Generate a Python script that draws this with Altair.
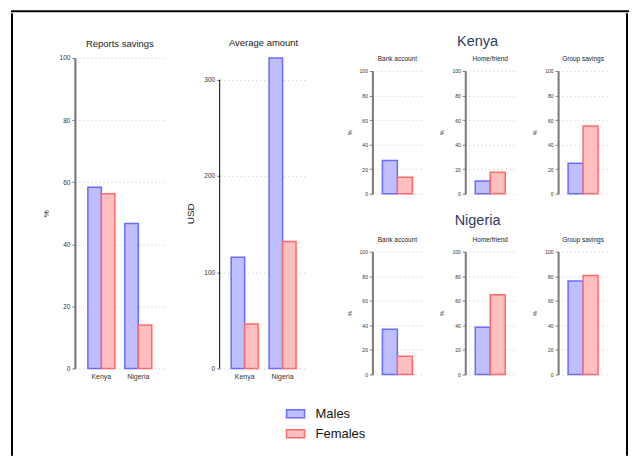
import altair as alt
import pandas as pd

sexes = ["Males", "Females"]
countries = ["Kenya", "Nigeria"]
reports_males = [58.4, 46.7]
reports_females = [56.3, 14.0]
amount_males = [115.5, 322.5]
amount_females = [46.2, 132.0]
channels = ["Bank account", "Home/friend", "Group savings"]
kenya_males = [27.0, 10.3, 24.9]
kenya_females = [13.5, 17.6, 55.1]
nigeria_males = [36.9, 38.5, 76.2]
nigeria_females = [14.9, 65.0, 80.5]
pct_ticks = [0, 20, 40, 60, 80, 100]
usd_ticks = [0, 100, 200, 300]

fill_colors = ["#bfbfff", "#ffbfbf"]
stroke_colors = ["#6b6bff", "#ff6b6b"]
FONT = "Liberation Sans"
TINY = 0.01


def long_df(cats, males, females, catname):
    rows = []
    for c, m, f in zip(cats, males, females):
        rows.append({catname: c, "sex": "Males", "value": m})
        rows.append({catname: c, "sex": "Females", "value": f})
    return pd.DataFrame(rows)


fill = alt.Fill("sex:N", scale=alt.Scale(domain=sexes, range=fill_colors),
                legend=alt.Legend(title=None))
stroke = alt.Stroke("sex:N", scale=alt.Scale(domain=sexes, range=stroke_colors),
                    legend=alt.Legend(title=None))


def blank(w, h, line=False):
    view = alt.ViewBackground(stroke="black", strokeWidth=2) if line else alt.ViewBackground(strokeWidth=0)
    return alt.Chart(pd.DataFrame({"v": [0]})).mark_point(opacity=0, size=0, strokeWidth=0).encode(
        x=alt.value(0), y=alt.value(0)
    ).properties(width=w, height=h, view=view)


def big_panel(df, title, ytitle, ticks, width, offsets, ydomain=None, grey_axis=True, titleoff=7.5):
    pi, po = offsets
    yscale = alt.Scale(domain=ydomain, nice=False) if ydomain else alt.Scale(nice=False, zero=True)
    yaxis = alt.Axis(
        values=ticks, title=ytitle, titleFontSize=8 if ytitle == "%" else 10,
        titleFontWeight="normal", titleColor="#222", titlePadding=9 if ytitle == "%" else 8,
        labelFontSize=6.5, labelColor="#333", labelPadding=2,
        tickSize=3, tickColor="#777",
        domain=grey_axis, domainColor="#7a7a7a", domainWidth=2.2,
        grid=True, gridDash=[1, 3], gridColor="#c8c8c8",
    )
    bars = alt.Chart(df).mark_bar(strokeWidth=1.5).encode(
        x=alt.X("country:N", sort=countries,
                scale=alt.Scale(paddingInner=pi, paddingOuter=po),
                axis=alt.Axis(title=None, labelAngle=0, domain=False, ticks=False,
                              grid=False, labelFontSize=7, labelColor="#333", labelPadding=4)),
        xOffset=alt.XOffset("sex:N", sort=sexes, scale=alt.Scale(domain=sexes)),
        y=alt.Y("value:Q", scale=yscale, axis=yaxis),
        fill=fill, stroke=stroke,
    )
    return bars, alt.TitleParams(title, fontSize=9.5, fontWeight="normal", color="#222",
                                 baseline="bottom", anchor="middle", offset=titleoff), width


rep_df = long_df(countries, reports_males, reports_females, "country")
amt_df = long_df(countries, amount_males, amount_females, "country")

b1, t1, w1 = big_panel(rep_df, "Reports savings", "%", pct_ticks, 90, (0.27, 0.351),
                       ydomain=[0, 100], titleoff=-3.2)
left_panel = b1.properties(width=w1, height=311, title=t1)

b2, t2, w2 = big_panel(amt_df, "Average amount", "USD", usd_ticks, 88, (0.289, 0.3025),
                       grey_axis=False, titleoff=-0.2)
rule = alt.Chart(pd.DataFrame({"v": [0]})).mark_rule(color="black", strokeWidth=1).encode(
    x=alt.value(0), y=alt.datum(0), y2=alt.datum(300)
)
avg_panel = alt.layer(b2, rule).properties(width=w2, height=311, title=t2)


def small_panel(cat, m, f):
    df = pd.DataFrame({"sex": sexes, "value": [m, f]})
    return alt.Chart(df).mark_bar(strokeWidth=1.5).encode(
        x=alt.X("sex:N", sort=sexes, scale=alt.Scale(paddingInner=0, paddingOuter=0.667), axis=None),
        y=alt.Y("value:Q", scale=alt.Scale(domain=[0, 100], nice=False),
                axis=alt.Axis(values=pct_ticks, title="%", titleFontSize=5.5, titleFontWeight="normal",
                              titleColor="#222", titlePadding=7,
                              labelFontSize=5, labelColor="#333", labelPadding=2,
                              tickSize=3, tickColor="#777",
                              domainColor="#7a7a7a", domainWidth=2,
                              grid=True, gridDash=[1, 3], gridColor="#c8c8c8")),
        fill=fill, stroke=stroke,
    ).properties(width=50, height=123,
                 title=alt.TitleParams(cat, fontSize=6.5, fontWeight="normal", color="#222",
                                       baseline="bottom", anchor="middle", offset=0.2))


def country_row(name, males, females, off):
    return alt.hconcat(
        *[small_panel(c, m, f) for c, m, f in zip(channels, males, females)], spacing=17
    ).properties(title=alt.TitleParams(name, fontSize=14.5, fontWeight="normal", color="#2f3b66",
                                       baseline="bottom", anchor="middle", offset=off))


right_col = alt.vconcat(
    blank(TINY, TINY),
    alt.vconcat(
        country_row("Kenya", kenya_males, kenya_females, -7),
        country_row("Nigeria", nigeria_males, nigeria_females, -5.7),
        spacing=16,
    ),
    spacing=17.7,
)

left_block = alt.vconcat(blank(TINY, TINY), alt.hconcat(left_panel, avg_panel, spacing=21), spacing=21.7)
content = alt.hconcat(left_block, right_col, spacing=39)

chart = alt.vconcat(
    blank(617, TINY, line=True),
    alt.hconcat(
        alt.hconcat(blank(TINY, 441, line=True), content, spacing=28),
        blank(TINY, 441, line=True), spacing=18),
    spacing=0,
).properties(
    padding={"left": 3, "top": 2, "right": 0, "bottom": 0}
).configure(
    font=FONT
).configure_view(
    strokeWidth=0
).configure_legend(
    orient="none", legendX=274, legendY=393, padding=0,
    symbolType="M-1,-0.45H1V0.45H-1Z", symbolSize=324, symbolStrokeWidth=1.5,
    labelFontSize=13, labelColor="#111", labelOffset=10, rowPadding=2,
)

chart.save("out.html", embed_options={"renderer": "svg", "actions": False})
